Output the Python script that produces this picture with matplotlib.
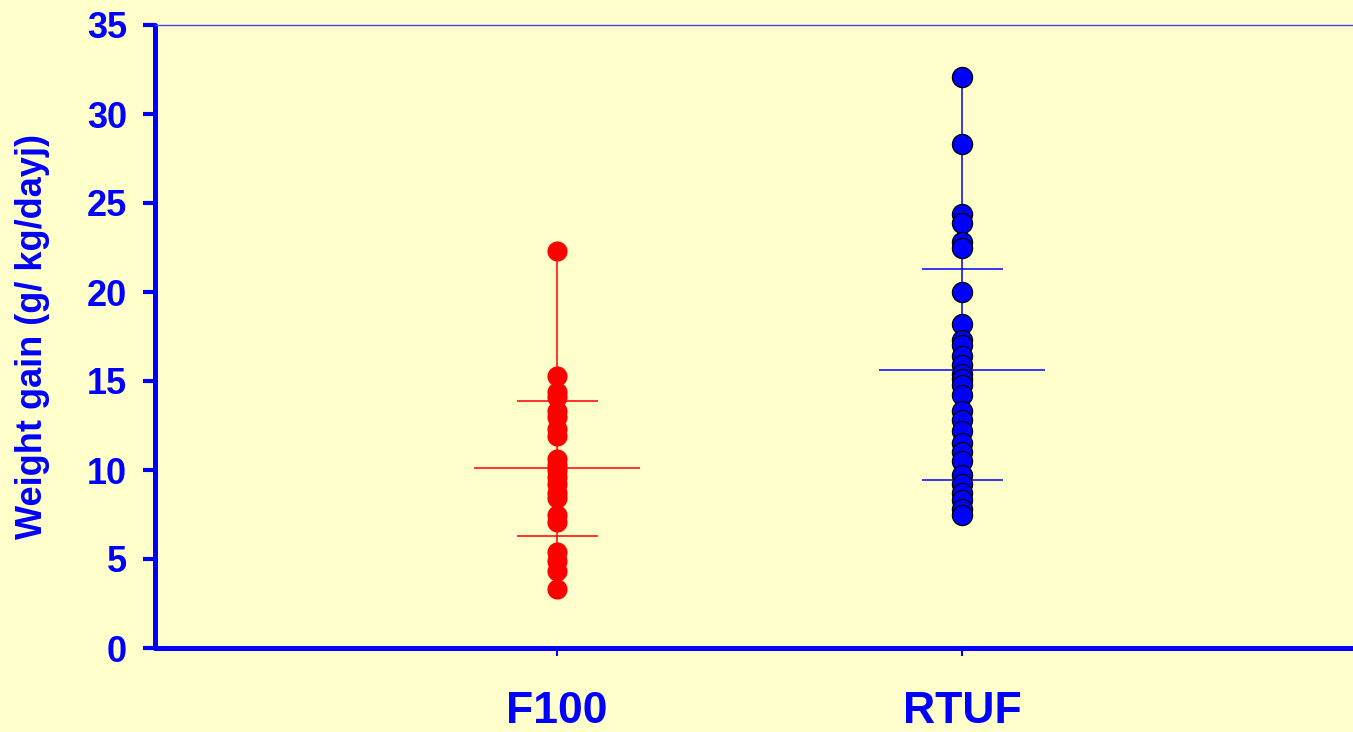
import matplotlib

matplotlib.use("Agg")
import matplotlib.pyplot as plt

# values
groups = ["F100", "RTUF"]
f100_gain = [22.3, 15.3, 14.4, 14.1, 13.3, 13.0, 12.3, 11.9, 10.6, 10.3, 10.0,
             9.6, 9.2, 8.7, 8.4, 7.5, 7.1, 5.4, 4.9, 4.3, 3.3]
rtuf_gain = [32.1, 28.3, 24.4, 23.9, 22.8, 22.5, 20.0, 18.2, 17.3, 17.0, 16.4,
             15.9, 15.4, 15.1, 14.8, 14.2, 13.3, 12.8, 12.2, 11.5, 11.0, 10.5,
             9.7, 9.2, 8.7, 8.3, 7.8, 7.5]
group_mean = [10.1, 15.6]
group_upper = [13.9, 21.3]
group_lower = [6.3, 9.45]
y_ticks = [0, 5, 10, 15, 20, 25, 30, 35]

BLUE = "#0000FF"
BG = "#FFFFCC"
FONT = ["Liberation Sans", "DejaVu Sans"]

plt.rcParams["font.family"] = FONT
plt.rcParams["font.weight"] = "bold"

fig = plt.figure(figsize=(13.53, 7.32), dpi=100)
fig.patch.set_facecolor(BG)
ax = fig.add_axes([155 / 1353, 84 / 732, 1212 / 1353, 623 / 732])
ax.set_facecolor(BG)

series = [(f100_gain, "#FF0000", None), (rtuf_gain, BLUE, "black")]
for i, (vals, col, edge) in enumerate(series):
    x = i + 1
    ax.vlines(x, min(vals), max(vals), color=col, linewidth=1.1, zorder=2)
    ax.hlines(group_mean[i], x - 0.205, x + 0.205, color=col, linewidth=1.1, zorder=2)
    ax.hlines([group_upper[i], group_lower[i]], x - 0.1, x + 0.1, color=col,
              linewidth=1.1, zorder=2)
    ax.plot([x] * len(vals), vals, linestyle="none", marker="o", markersize=14.5,
            markerfacecolor=col, markeredgecolor=edge or col,
            markeredgewidth=0.9 if edge else 0, zorder=3, clip_on=False)

ax.set_xlim(0.007, 3)
ax.set_ylim(0, 35)
ax.set_xticks([1, 2])
ax.set_xticklabels(groups, fontsize=32, fontweight="bold", color=BLUE)
ax.set_yticks(y_ticks)
ax.set_yticklabels([str(t) for t in y_ticks], fontsize=26, fontweight="bold", color=BLUE)

ax.tick_params(axis="y", direction="out", length=9, width=3, color=BLUE, pad=11)
ax.tick_params(axis="x", direction="out", length=6, width=1.5, color=BLUE, pad=25)

for side in ["left", "bottom"]:
    ax.spines[side].set_color(BLUE)
    ax.spines[side].set_linewidth(3.6)
    ax.spines[side].set_capstyle("round")
ax.spines["top"].set_color("#4444FF")
ax.spines["top"].set_linewidth(1.0)
ax.spines["right"].set_visible(False)

ax.set_ylabel("Weight gain (g/ kg/dayj)", fontsize=26, fontweight="bold", color=BLUE)
ax.yaxis.set_label_coords(-0.0866, 0.5)

fig.savefig("out.png", dpi=100, facecolor=BG)
